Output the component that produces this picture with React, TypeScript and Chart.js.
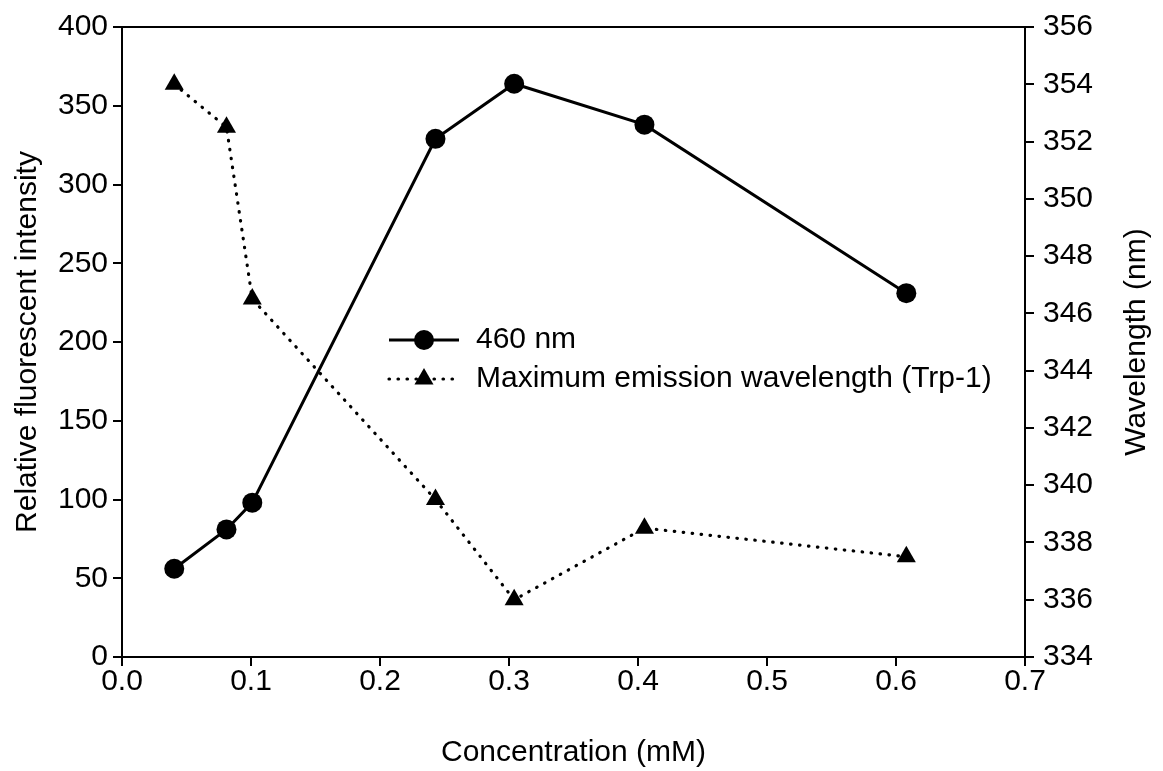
import { useEffect, useRef } from "react";
import { Chart, registerables } from "chart.js";

Chart.register(...registerables);

// Concentration of the sample (mM)
const concentration = [0.0405, 0.081, 0.101, 0.243, 0.304, 0.405, 0.608];
// Relative fluorescent intensity at 460 nm
const intensity460 = [56, 81, 98, 329, 364, 338, 231];
// Maximum emission wavelength of Trp-1 (nm)
const maxEmission = [354, 352.5, 346.5, 339.5, 336, 338.5, 337.5];

const seriesLabels = ["460 nm", "Maximum emission wavelength (Trp-1)"];
const xTitle = "Concentration (mM)";
const leftTitle = "Relative fluorescent intensity";
const rightTitle = "Wavelength (nm)";

const FONT = "'Liberation Sans', Arial, Helvetica, sans-serif";
const FONT_SIZE = 30;

const W = 1163;
const H = 771;
const AREA = { left: 122, right: 1025, top: 26, bottom: 657 };

// Legend drawn inside the plot area using each dataset's own styling
const insideLegend = {
  id: "insideLegend",
  afterDatasetsDraw(chart: any) {
    const ctx = chart.ctx as CanvasRenderingContext2D;
    const x0 = 389;
    const x1 = 459;
    const xm = (x0 + x1) / 2;
    const textX = 476;
    const rows = [340, 379];
    ctx.save();
    chart.data.datasets.forEach((ds: any, i: number) => {
      const y = rows[i];
      ctx.strokeStyle = ds.borderColor;
      ctx.lineWidth = ds.borderWidth;
      ctx.lineCap = ds.borderCapStyle || "butt";
      ctx.setLineDash(ds.borderDash || []);
      ctx.beginPath();
      ctx.moveTo(x0, y);
      ctx.lineTo(x1, y);
      ctx.stroke();
      ctx.setLineDash([]);
      ctx.fillStyle = ds.pointBackgroundColor || ds.backgroundColor;
      const r = ds.pointRadius;
      ctx.beginPath();
      if (ds.pointStyle === "triangle") {
        let rad = 0;
        ctx.moveTo(xm + Math.sin(rad) * r, y - Math.cos(rad) * r);
        rad += (2 * Math.PI) / 3;
        ctx.lineTo(xm + Math.sin(rad) * r, y - Math.cos(rad) * r);
        rad += (2 * Math.PI) / 3;
        ctx.lineTo(xm + Math.sin(rad) * r, y - Math.cos(rad) * r);
        ctx.closePath();
      } else {
        ctx.arc(xm, y, r, 0, Math.PI * 2);
      }
      ctx.fill();
      ctx.fillStyle = "#000";
      ctx.font = `${FONT_SIZE}px ${FONT}`;
      ctx.textAlign = "left";
      ctx.textBaseline = "middle";
      ctx.fillText(ds.label, textX, y);
    });
    ctx.restore();
  },
};

// Right-hand axis title, read from bottom to top like the left one
const rightAxisTitle = {
  id: "rightAxisTitle",
  afterDraw(chart: any) {
    const ctx = chart.ctx as CanvasRenderingContext2D;
    const area = chart.chartArea;
    const cx = 1137;
    const cy = (area.top + area.bottom) / 2;
    ctx.save();
    ctx.translate(cx, cy);
    ctx.rotate(-Math.PI / 2);
    ctx.fillStyle = "#000";
    ctx.font = `${FONT_SIZE}px ${FONT}`;
    ctx.textAlign = "center";
    ctx.textBaseline = "middle";
    ctx.fillText(rightTitle, 0, 0);
    ctx.restore();
  },
};

export default function App() {
  const canvasRef = useRef<HTMLCanvasElement | null>(null);

  useEffect(() => {
    const canvas = canvasRef.current;
    if (!canvas) return;

    const tickFont = { family: FONT, size: FONT_SIZE };
    const axisGrid = {
      drawOnChartArea: false,
      drawTicks: true,
      tickLength: 9,
      color: "#000",
      lineWidth: 2,
    };
    const axisBorder = { display: true, color: "#000", width: 2 };

    const chart = new Chart(canvas, {
      type: "scatter",
      data: {
        datasets: [
          {
            label: seriesLabels[0],
            data: concentration.map((x, i) => ({ x, y: intensity460[i] })),
            yAxisID: "y",
            showLine: true,
            borderColor: "#000",
            backgroundColor: "#000",
            pointBackgroundColor: "#000",
            borderWidth: 3,
            pointRadius: 10,
            pointBorderWidth: 0,
            pointStyle: "circle",
          },
          {
            label: seriesLabels[1],
            data: concentration.map((x, i) => ({ x, y: maxEmission[i] })),
            yAxisID: "y1",
            showLine: true,
            borderColor: "#000",
            backgroundColor: "#000",
            pointBackgroundColor: "#000",
            borderWidth: 3.2,
            borderDash: [0.5, 8.5],
            borderCapStyle: "round",
            pointRadius: 11,
            pointBorderWidth: 0,
            pointStyle: "triangle",
          },
        ],
      },
      options: {
        responsive: false,
        animation: false,
        devicePixelRatio: 1,
        layout: { padding: { top: AREA.top, left: 0, right: 0, bottom: 0 } },
        plugins: {
          legend: { display: false },
          tooltip: { enabled: false },
        },
        scales: {
          x: {
            type: "linear",
            position: "bottom",
            min: 0,
            max: 0.7,
            ticks: {
              stepSize: 0.1,
              color: "#000",
              font: tickFont,
              padding: -2,
              maxRotation: 0,
              callback: (v: any) => Number(v).toFixed(1),
            },
            grid: axisGrid,
            border: axisBorder,
            title: {
              display: true,
              text: xTitle,
              color: "#000",
              font: tickFont,
              padding: { top: 0, bottom: 0 },
            },
            afterFit: (scale: any) => {
              scale.height = H - AREA.bottom;
            },
          },
          xTop: {
            type: "linear",
            position: "top",
            min: 0,
            max: 0.7,
            ticks: { display: false },
            grid: { display: false },
            border: axisBorder,
            afterFit: (scale: any) => {
              scale.height = 0;
            },
          },
          y: {
            type: "linear",
            position: "left",
            min: 0,
            max: 400,
            ticks: {
              stepSize: 50,
              color: "#000",
              font: tickFont,
              padding: 5,
            },
            grid: axisGrid,
            border: axisBorder,
            title: {
              display: true,
              text: leftTitle,
              color: "#000",
              font: tickFont,
              padding: { top: 10, bottom: 0 },
            },
            afterFit: (scale: any) => {
              scale.width = AREA.left;
            },
          },
          y1: {
            type: "linear",
            position: "right",
            min: 334,
            max: 356,
            ticks: {
              stepSize: 2,
              color: "#000",
              font: tickFont,
              padding: 9,
            },
            grid: axisGrid,
            border: axisBorder,
            title: { display: false },
            afterFit: (scale: any) => {
              scale.width = W - AREA.right;
            },
          },
        },
      },
      plugins: [insideLegend, rightAxisTitle],
    } as any);

    return () => {
      chart.destroy();
    };
  }, []);

  return (
    <div
      style={{
        position: "absolute",
        left: 0,
        top: 0,
        width: W,
        height: H,
        background: "#fff",
      }}
    >
      <canvas ref={canvasRef} width={W} height={H} style={{ width: W, height: H }} />
    </div>
  );
}
